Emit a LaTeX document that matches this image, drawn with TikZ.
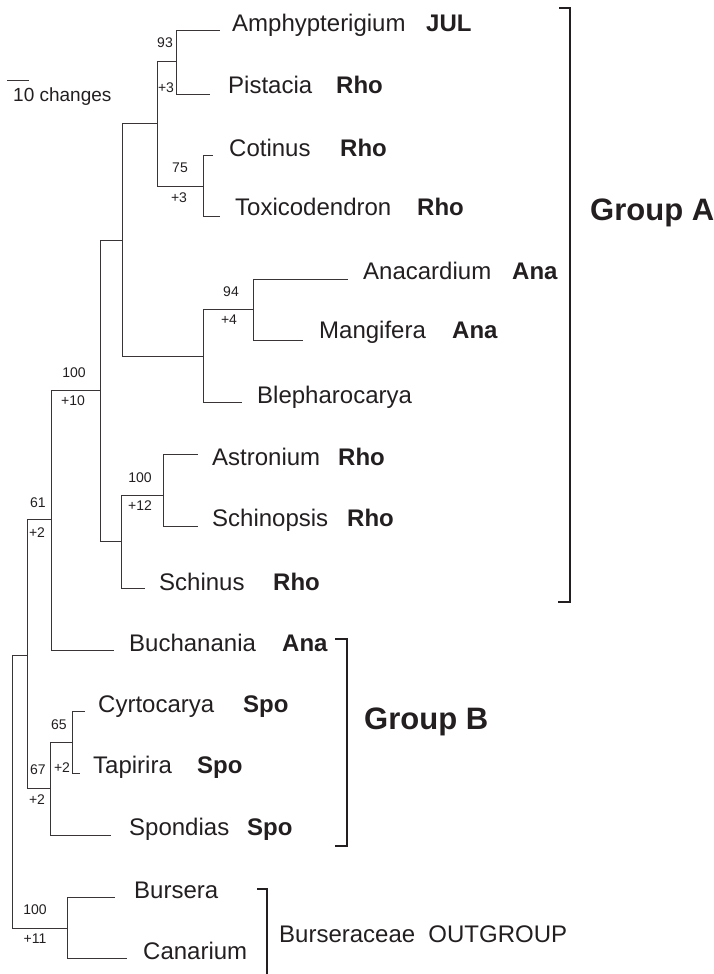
\documentclass[tikz,border=0pt]{standalone}
\usepackage{fontspec}
\setmainfont{Liberation Sans}
\definecolor{ink}{HTML}{231F20}
\begin{document}
\begin{tikzpicture}[x=1pt,y=-1pt,
  br/.style={line width=1pt, draw=ink!90},
  grp/.style={line width=2.2pt, draw=ink},
  taxon/.style={anchor=base west, inner sep=0pt, text=ink, font=\fontsize{24}{28}\selectfont},
  code/.style={anchor=base west, inner sep=0pt, text=ink, font=\fontsize{24}{28}\selectfont\bfseries},
  supp/.style={inner sep=0pt, text=ink, font=\fontsize{14}{16}\selectfont},
  grplabel/.style={anchor=base west, inner sep=0pt, text=ink, font=\fontsize{31}{36}\selectfont\bfseries}]
\useasboundingbox (0,0) rectangle (714,974);
% internal nodes
\coordinate (root) at (12,791);
\coordinate (ing) at (27,655);
\coordinate (nAB) at (51,519);
\coordinate (nA) at (100,390);
\coordinate (nA1) at (122,240);
\coordinate (nAPCT) at (157,123);
\coordinate (nAP) at (176,62);
\coordinate (nCT) at (203,186);
\coordinate (nAMB) at (203,356);
\coordinate (nAM) at (253,309);
\coordinate (nA2) at (121,541);
\coordinate (nAS) at (163,495);
\coordinate (nSpo) at (50,788);
\coordinate (nCyTa) at (72,742);
\coordinate (nBC) at (67,928);
% tips
\coordinate (tAmph) at (220,31);
\coordinate (tPist) at (210,94);
\coordinate (tCoti) at (213,155);
\coordinate (tToxi) at (220,216);
\coordinate (tAnac) at (348,279);
\coordinate (tMang) at (303,340);
\coordinate (tBlep) at (242,402);
\coordinate (tAstr) at (198,454);
\coordinate (tSchp) at (198,526);
\coordinate (tSchs) at (145,588);
\coordinate (tBuch) at (114,650);
\coordinate (tCyrt) at (85,711);
\coordinate (tTapi) at (80,773);
\coordinate (tSpon) at (111,835);
\coordinate (tBurs) at (115,897);
\coordinate (tCana) at (127,958);
% branches
\draw[br] (root) |- (ing);   \draw[br] (root) |- (nBC);
\draw[br] (ing) |- (nAB);    \draw[br] (ing) |- (nSpo);
\draw[br] (nAB) |- (nA);     \draw[br] (nAB) |- (tBuch);
\draw[br] (nA) |- (nA1);     \draw[br] (nA) |- (nA2);
\draw[br] (nA1) |- (nAPCT);  \draw[br] (nA1) |- (nAMB);
\draw[br] (nAPCT) |- (nAP);  \draw[br] (nAPCT) |- (nCT);
\draw[br] (nAP) |- (tAmph);  \draw[br] (nAP) |- (tPist);
\draw[br] (nCT) |- (tCoti);  \draw[br] (nCT) |- (tToxi);
\draw[br] (nAMB) |- (nAM);   \draw[br] (nAMB) |- (tBlep);
\draw[br] (nAM) |- (tAnac);  \draw[br] (nAM) |- (tMang);
\draw[br] (nA2) |- (nAS);    \draw[br] (nA2) |- (tSchs);
\draw[br] (nAS) |- (tAstr);  \draw[br] (nAS) |- (tSchp);
\draw[br] (nSpo) |- (nCyTa); \draw[br] (nSpo) |- (tSpon);
\draw[br] (nCyTa) |- (tCyrt);\draw[br] (nCyTa) |- (tTapi);
\draw[br] (nBC) |- (tBurs);  \draw[br] (nBC) |- (tCana);
% taxon names
\node[taxon] (lAmph) at (232,32) {Amphypterigium};
\node[taxon] (lPist) at (228,93) {Pistacia};
\node[taxon] (lCoti) at (229,156) {Cotinus};
\node[taxon] (lToxi) at (235,215) {Toxicodendron};
\node[taxon] (lAnac) at (363,279) {Anacardium};
\node[taxon] (lMang) at (319,338) {Mangifera};
\node[taxon] (lBlep) at (257,403) {Blepharocarya};
\node[taxon] (lAstr) at (212,465) {Astronium};
\node[taxon] (lSchp) at (212,526) {Schinopsis};
\node[taxon] (lSchs) at (159,590) {Schinus};
\node[taxon] (lBuch) at (129,651) {Buchanania};
\node[taxon] (lCyrt) at (98,712) {Cyrtocarya};
\node[taxon] (lTapi) at (93,773) {Tapirira};
\node[taxon] (lSpon) at (129,835) {Spondias};
\node[taxon] (lBurs) at (134,898) {Bursera};
\node[taxon] (lCana) at (143,959) {Canarium};
% codes
\node[code] (cAmph) at (426,32) {JUL};
\node[code] (cPist) at (336,93) {Rho};
\node[code] (cCoti) at (340,156) {Rho};
\node[code] (cToxi) at (417,215) {Rho};
\node[code] (cAnac) at (512,279) {Ana};
\node[code] (cMang) at (452,338) {Ana};
\node[code] (cAstr) at (338,465) {Rho};
\node[code] (cSchp) at (347,526) {Rho};
\node[code] (cSchs) at (273,590) {Rho};
\node[code] (cBuch) at (282,651) {Ana};
\node[code] (cCyrt) at (243,712) {Spo};
\node[code] (cTapi) at (197,773) {Spo};
\node[code] (cSpon) at (247,835) {Spo};
% support values
\node[supp] (s1) at (165,43) {93};
\node[supp] (s2) at (166,88) {+3};
\node[supp] (s3) at (180,168) {75};
\node[supp] (s4) at (179,198) {+3};
\node[supp] (s5) at (231,292) {94};
\node[supp] (s6) at (229,320) {+4};
\node[supp] (s7) at (74,373) {100};
\node[supp] (s8) at (73,401) {+10};
\node[supp] (s9) at (140,478) {100};
\node[supp] (s10) at (140,506) {+12};
\node[supp] (s11) at (38,503) {61};
\node[supp] (s12) at (37,533) {+2};
\node[supp] (s13) at (59,725) {65};
\node[supp] (s14) at (62,768) {+2};
\node[supp] (s15) at (38,770) {67};
\node[supp] (s16) at (37,800) {+2};
\node[supp] (s17) at (35,910) {100};
\node[supp] (s18) at (35,939) {+11};
% scale bar
\coordinate (sb1) at (7,80);
\coordinate (sb2) at (29,80);
\draw[br] (sb1) -- (sb2);
\node[anchor=base west, inner sep=0pt, text=ink, font=\fontsize{19}{22}\selectfont] (sbl) at (13,101) {10 changes};
% brackets
\coordinate (ga1) at (559,8);   \coordinate (ga2) at (570,8);
\coordinate (ga3) at (570,602); \coordinate (ga4) at (558,602);
\draw[grp] (ga1) -- (ga2) -- (ga3) -- (ga4);
\coordinate (gb1) at (335,639); \coordinate (gb2) at (347,639);
\coordinate (gb3) at (347,846); \coordinate (gb4) at (335,846);
\draw[grp] (gb1) -- (gb2) -- (gb3) -- (gb4);
\coordinate (go1) at (257,889); \coordinate (go2) at (267,889);
\coordinate (go3) at (267,974);
\draw[grp] (go1) -- (go2) -- (go3);
\node[grplabel] (GA) at (590,220) {Group A};
\node[grplabel] (GB) at (364,729) {Group B};
\node[taxon] (GO) at (279,942) {Burseraceae\hspace{0.55em}OUTGROUP};
\end{tikzpicture}
\end{document}
